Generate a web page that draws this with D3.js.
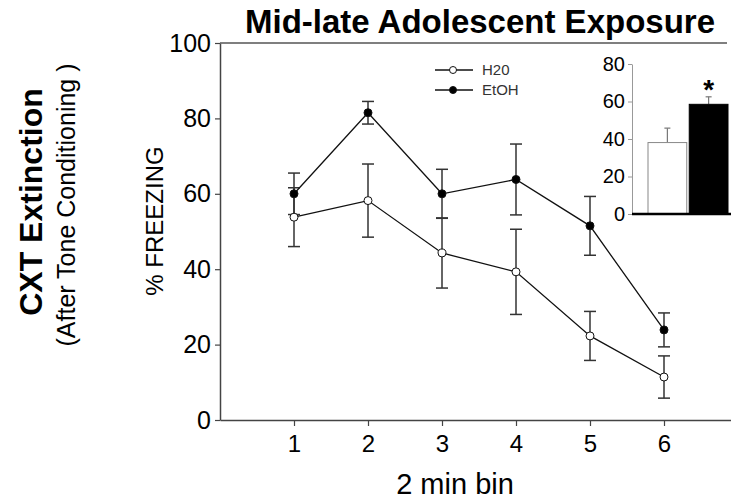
<!DOCTYPE html>
<html>
<head>
<meta charset="utf-8">
<script src="https://cdn.jsdelivr.net/npm/d3@7"></script>
<style>
	body { margin: 0; background: #fff; }
	svg text { font-family: 'Liberation Sans', Arial, sans-serif; }
</style>
</head>
<body>
<svg class="chart" width="731" height="501"></svg>
<script>
const bins = [1, 2, 3, 4, 5, 6]
const h2oMean = [53.8, 58.2, 44.3, 39.3, 22.3, 11.4]
const h2oErr = [7.8, 9.7, 9.3, 11.3, 6.5, 5.6]
const etohMean = [60.0, 81.5, 60.0, 63.8, 51.5, 23.9]
const etohErr = [5.5, 3.0, 6.5, 9.4, 7.8, 4.5]
const yTicks = [0, 20, 40, 60, 80, 100]

const insetGroups = ['H20', 'EtOH']
const insetMean = [38.1, 58.5]
const insetErr = [7.7, 4.0]
const insetTicks = [0, 20, 40, 60, 80]

const svg = d3.select('.chart')

const x = d3.scaleLinear()
	.domain([0, 6.9])
	.range([220, 730.6])

const y = d3.scaleLinear()
	.domain([0, 100])
	.range([420, 43])

// axes
const yAxis = svg.append('g')
	.attr('transform', 'translate(' + x(0) + ',0)')
	.call(d3.axisLeft(y).tickValues(yTicks).tickSize(5).tickPadding(4).tickSizeOuter(0))
yAxis.select('.domain').attr('stroke', '#444').attr('stroke-width', 1.5)
yAxis.selectAll('.tick line').attr('stroke', '#444').attr('stroke-width', 1.2)
yAxis.selectAll('.tick text').attr('font-size', 25).attr('fill', '#000')

const xAxis = svg.append('g')
	.attr('transform', 'translate(0,' + y(0) + ')')
	.call(d3.axisBottom(x).tickValues(bins).tickFormat(d3.format('d')).tickSize(6).tickPadding(9).tickSizeOuter(0))
xAxis.select('.domain').attr('stroke', '#444').attr('stroke-width', 1.5)
xAxis.selectAll('.tick line').attr('stroke', '#444').attr('stroke-width', 1.2)
xAxis.selectAll('.tick text').attr('font-size', 24).attr('fill', '#000')

// top frame line
svg.append('line')
	.attr('x1', x(0))
	.attr('x2', 727)
	.attr('y1', y(100))
	.attr('y2', y(100))
	.attr('stroke', '#555')
	.attr('stroke-width', 1.5)

// text
svg.append('text')
	.attr('x', 480)
	.attr('y', 33)
	.attr('text-anchor', 'middle')
	.attr('font-size', 33)
	.attr('font-weight', 'bold')
	.text('Mid-late Adolescent Exposure')

svg.append('text')
	.attr('x', 455)
	.attr('y', 494)
	.attr('text-anchor', 'middle')
	.attr('font-size', 29)
	.text('2 min bin')

svg.append('text')
	.attr('transform', 'translate(163,221) rotate(-90)')
	.attr('text-anchor', 'middle')
	.attr('font-size', 24)
	.text('% FREEZING')

svg.append('text')
	.attr('transform', 'translate(42,202) rotate(-90)')
	.attr('text-anchor', 'middle')
	.attr('font-size', 32)
	.attr('font-weight', 'bold')
	.text('CXT Extinction')

svg.append('text')
	.attr('transform', 'translate(75,205) rotate(-90)')
	.attr('text-anchor', 'middle')
	.attr('font-size', 25)
	.text('(After Tone Conditioning )')

// series
const series = [
	{ name: 'H20', mean: h2oMean, err: h2oErr, fill: '#fff' },
	{ name: 'EtOH', mean: etohMean, err: etohErr, fill: '#000' }
]

const line = d3.line()
	.x((d, i) => x(bins[i]))
	.y(d => y(d))

series.forEach(s => {
	const g = svg.append('g')
	bins.forEach((b, i) => {
		const top = y(s.mean[i] + s.err[i])
		const bot = y(s.mean[i] - s.err[i])
		g.append('line')
			.attr('x1', x(b)).attr('x2', x(b))
			.attr('y1', top).attr('y2', bot)
			.attr('stroke', '#333').attr('stroke-width', 1.5)
		;[top, bot].forEach(yy => {
			g.append('line')
				.attr('x1', x(b) - 6).attr('x2', x(b) + 6)
				.attr('y1', yy).attr('y2', yy)
				.attr('stroke', '#333').attr('stroke-width', 1.5)
		})
	})
})

series.forEach(s => {
	svg.append('path')
		.attr('d', line(s.mean))
		.attr('fill', 'none')
		.attr('stroke', '#111')
		.attr('stroke-width', 1.3)
	svg.selectAll(null)
		.data(s.mean)
		.enter()
		.append('circle')
		.attr('cx', (d, i) => x(bins[i]))
		.attr('cy', d => y(d))
		.attr('r', 4)
		.attr('fill', s.fill)
		.attr('stroke', '#111')
		.attr('stroke-width', 1)
})

// legend
const legend = svg.append('g')
series.forEach((s, i) => {
	const ly = 70 + i * 20
	legend.append('line')
		.attr('x1', 435).attr('x2', 473)
		.attr('y1', ly).attr('y2', ly)
		.attr('stroke', '#111').attr('stroke-width', 1.3)
	legend.append('circle')
		.attr('cx', 453).attr('cy', ly).attr('r', 3.5)
		.attr('fill', s.fill).attr('stroke', '#111')
	legend.append('text')
		.attr('x', 482).attr('y', ly)
		.attr('dy', '0.35em')
		.attr('font-size', 15)
		.attr('fill', '#333')
		.text(s.name)
})

// inset bar chart
const yi = d3.scaleLinear()
	.domain([0, 80])
	.range([214, 64])

const xi = d3.scaleBand()
	.domain(insetGroups)
	.range([648, 728])
	.paddingInner(0.06)

const insetAxis = svg.append('g')
	.attr('transform', 'translate(632,0)')
	.call(d3.axisLeft(yi).tickValues(insetTicks).tickSize(4).tickPadding(3).tickSizeOuter(0))
insetAxis.select('.domain').attr('stroke', '#999').attr('stroke-width', 1)
insetAxis.selectAll('.tick line').attr('stroke', '#999')
insetAxis.selectAll('.tick text').attr('font-size', 20).attr('fill', '#000')

insetGroups.forEach((g, i) => {
	const cx = xi(g) + xi.bandwidth() / 2
	svg.append('line')
		.attr('x1', cx).attr('x2', cx)
		.attr('y1', yi(insetMean[i])).attr('y2', yi(insetMean[i] + insetErr[i]))
		.attr('stroke', '#777').attr('stroke-width', 1.2)
	svg.append('line')
		.attr('x1', cx - 3).attr('x2', cx + 3)
		.attr('y1', yi(insetMean[i] + insetErr[i])).attr('y2', yi(insetMean[i] + insetErr[i]))
		.attr('stroke', '#777').attr('stroke-width', 1.2)
})

svg.selectAll('.inset-bar')
	.data(insetMean)
	.enter()
	.append('rect')
	.attr('class', 'inset-bar')
	.attr('x', (d, i) => xi(insetGroups[i]))
	.attr('y', d => yi(d))
	.attr('width', xi.bandwidth())
	.attr('height', d => yi(0) - yi(d))
	.attr('fill', (d, i) => i === 0 ? '#fff' : '#000')
	.attr('stroke', (d, i) => i === 0 ? '#888' : '#000')
	.attr('stroke-width', 1)

svg.append('line')
	.attr('x1', 632).attr('x2', 731)
	.attr('y1', yi(0)).attr('y2', yi(0))
	.attr('stroke', '#000').attr('stroke-width', 2.5)

svg.append('text')
	.attr('x', xi('EtOH') + xi.bandwidth() / 2)
	.attr('y', yi(insetMean[1] + insetErr[1]) + 2)
	.attr('text-anchor', 'middle')
	.attr('font-size', 28)
	.attr('font-weight', 'bold')
	.text('*')
</script>
</body>
</html>
